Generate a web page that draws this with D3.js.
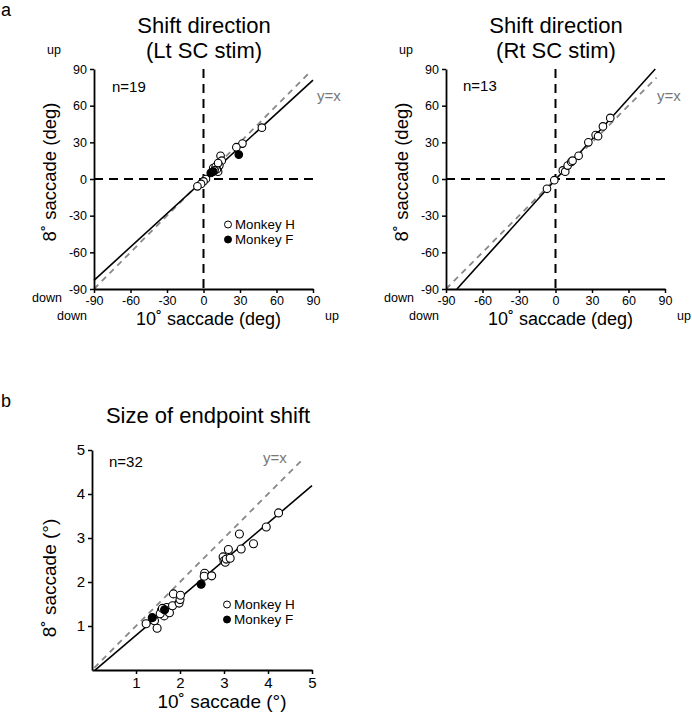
<!DOCTYPE html>
<html><head><meta charset="utf-8">
<script src="https://cdn.jsdelivr.net/npm/d3@7"></script>
<style>body{margin:0;background:#fff}svg{display:block;font-family:"Liberation Sans",Arial,sans-serif}</style>
</head><body>
<script>
// ---- data ----
const dirTicks = [-90, -60, -30, 0, 30, 60, 90];
const sizeTicks = [1, 2, 3, 4, 5];
// Panel a, left (Lt SC stim): [10° saccade, 8° saccade] direction (deg)
const ltMonkeyH = [[48,42],[32,29],[27,26],[14,19],[15,15],[13,11],[12,6],[11,8],[8,9],[10,10],[2,0],[0,-2],[-2,-4],[-5,-6],[12,13],[9,7]];
const ltMonkeyF = [[29,20],[6,5],[8,6]];
const ltFit = {slope: 0.91, intercept: -1};
// Panel a, right (Rt SC stim)
const rtMonkeyH = [[-7,-8],[-1,-1],[6,7],[8,6],[10,11],[13,14],[14,15],[19,19],[27,30],[33,36],[35,35],[39,43],[45,50]];
const rtFit = {slope: 1.104, intercept: -0.6};
// Panel b: size of endpoint shift (deg)
const sizeMonkeyH = [[1.23,1.05],[1.42,1.12],[1.48,0.95],[1.58,1.36],[1.64,1.23],[1.55,1.28],[1.73,1.33],[1.70,1.42],[1.76,1.30],[1.83,1.46],[1.85,1.73],[1.98,1.52],[2.00,1.60],[2.01,1.70],[2.56,2.20],[2.55,2.13],[2.72,2.14],[2.98,2.57],[3.00,2.48],[3.03,2.45],[3.05,2.52],[3.10,2.74],[3.14,2.54],[3.35,3.09],[3.39,2.75],[3.67,2.87],[3.96,3.25],[4.24,3.57],[1.60,1.40]];
const sizeMonkeyF = [[1.37,1.19],[1.65,1.37],[2.48,1.95]];
const sizeFit = {slope: 0.85, intercept: -0.06};

const svg = d3.select("body").append("svg").attr("width", 692).attr("height", 719);
const FONT = '"Liberation Sans",Arial,sans-serif';

function txt(x, y, s, size, opts = {}) {
  const t = svg.append("text").attr("x", x).attr("y", y).text(s)
    .attr("font-size", size).attr("fill", opts.fill || "#000")
    .attr("text-anchor", opts.anchor || "start");
  if (opts.rotate) t.attr("transform", `rotate(${opts.rotate},${x},${y})`);
  return t;
}

function panel(cfg) {
  const x = d3.scaleLinear().domain(cfg.xd).range(cfg.xr);
  const y = d3.scaleLinear().domain(cfg.yd).range(cfg.yr);
  const g = svg.append("g");
  if (cfg.zeroLines) {
    g.append("line").attr("x1", x(0)).attr("x2", x(0)).attr("y1", y(90)).attr("y2", y(-90))
      .attr("stroke", "#000").attr("stroke-width", 2).attr("stroke-dasharray", "9,6");
    g.append("line").attr("x1", x(-90)).attr("x2", x(90)).attr("y1", y(0)).attr("y2", y(0))
      .attr("stroke", "#000").attr("stroke-width", 2).attr("stroke-dasharray", "9,6");
  }
  g.append("line").attr("x1", x(cfg.idLine[0])).attr("y1", y(cfg.idLine[0]))
    .attr("x2", x(cfg.idLine[1])).attr("y2", y(cfg.idLine[1]))
    .attr("stroke", "#888").attr("stroke-width", 1.8).attr("stroke-dasharray", "6,5");
  const f = cfg.fit;
  g.append("line").attr("x1", x(cfg.fitX[0])).attr("y1", y(f.slope * cfg.fitX[0] + f.intercept))
    .attr("x2", x(cfg.fitX[1])).attr("y2", y(f.slope * cfg.fitX[1] + f.intercept))
    .attr("stroke", "#000").attr("stroke-width", 1.6);
  const fmt = d => String(d);
  const ax = g.append("g").attr("transform", `translate(0,${cfg.yr[0]})`)
    .call(d3.axisBottom(x).tickValues(cfg.ticks).tickFormat(fmt).tickSize(4).tickSizeOuter(0).tickPadding(3));
  const ay = g.append("g").attr("transform", `translate(${cfg.xr[0]},0)`)
    .call(d3.axisLeft(y).tickValues(cfg.ticks).tickFormat(fmt).tickSize(4).tickSizeOuter(0).tickPadding(3));
  [ax, ay].forEach(a => {
    a.select(".domain").attr("stroke", "#000").attr("stroke-width", 1.8);
    a.selectAll(".tick line").attr("stroke", "#000").attr("stroke-width", 1.5);
    a.selectAll("text").attr("font-size", cfg.tickFont).attr("font-family", FONT).attr("fill", "#000");
  });
  const r = cfg.r;
  g.selectAll(null).data(cfg.open).join("circle")
    .attr("cx", d => x(d[0])).attr("cy", d => y(d[1])).attr("r", r)
    .attr("fill", "#fff").attr("stroke", "#000").attr("stroke-width", 1.1);
  if (cfg.filled) g.selectAll(null).data(cfg.filled).join("circle")
    .attr("cx", d => x(d[0])).attr("cy", d => y(d[1])).attr("r", r)
    .attr("fill", "#000").attr("stroke", "#000").attr("stroke-width", 1.1);
  return {x, y};
}

panel({xd: [-90, 90], xr: [94, 313], yd: [-90, 90], yr: [289, 69], ticks: dirTicks, tickFont: 12.5,
  zeroLines: true, idLine: [-90, 86], fit: ltFit, fitX: [-90, 90], open: ltMonkeyH, filled: ltMonkeyF, r: 3.8});
panel({xd: [-90, 90], xr: [446, 665], yd: [-90, 90], yr: [289, 69], ticks: dirTicks, tickFont: 12.5,
  zeroLines: true, idLine: [-90, 83], fit: rtFit, fitX: [-81, 82], open: rtMonkeyH, r: 3.8});
panel({xd: [0, 5], xr: [92, 312], yd: [0, 5], yr: [670, 450], ticks: sizeTicks, tickFont: 15,
  idLine: [0.05, 4.8], fit: sizeFit, fitX: [0.07, 5], open: sizeMonkeyH, filled: sizeMonkeyF, r: 4});

// ---- texts ----
txt(1, 16, "a", 18);
txt(1, 407, "b", 18);
txt(204, 33, "Shift direction", 22, {anchor: "middle"});
txt(204, 58, "(Lt SC stim)", 22, {anchor: "middle"});
txt(556, 33, "Shift direction", 22, {anchor: "middle"});
txt(556, 58, "(Rt SC stim)", 22, {anchor: "middle"});
txt(208, 423, "Size of endpoint shift", 22, {anchor: "middle"});

[[0, 94, 313], [352, 446, 665]].forEach(([dx, x0, x1]) => {
  txt(47 + dx, 54, "up", 12.5);
  txt(32 + dx, 302, "down", 12.5);
  txt(57 + dx, 320, "down", 12.5);
  txt(x1 + 12, 320, "up", 12.5);
  txt((x0 + x1) / 2 + 5, 325, "10˚ saccade (deg)", 18, {anchor: "middle"});
  txt(56 + dx, 172, "8˚ saccade (deg)", 18.5, {anchor: "middle", rotate: -90});
});
txt(112, 92, "n=19", 15);
txt(463, 91, "n=13", 15);
txt(317, 101, "y=x", 15, {fill: "#777"});
txt(657, 101, "y=x", 15, {fill: "#777"});
txt(109, 467, "n=32", 15);
txt(263, 463, "y=x", 15, {fill: "#777"});
txt(222, 708, "10˚ saccade (°)", 19, {anchor: "middle"});
txt(56, 578, "8˚ saccade (°)", 19, {anchor: "middle", rotate: -90});

function legend(x, y, size, gap) {
  svg.append("circle").attr("cx", x).attr("cy", y - 4.5).attr("r", 3.5).attr("fill", "#fff").attr("stroke", "#000");
  txt(x + 7, y, "Monkey H", size);
  svg.append("circle").attr("cx", x).attr("cy", y + gap - 4.5).attr("r", 3.5).attr("fill", "#000").attr("stroke", "#000");
  txt(x + 7, y + gap, "Monkey F", size);
}
legend(228, 229, 13.3, 15);
legend(227, 609, 13.5, 15);
</script>
</body></html>
